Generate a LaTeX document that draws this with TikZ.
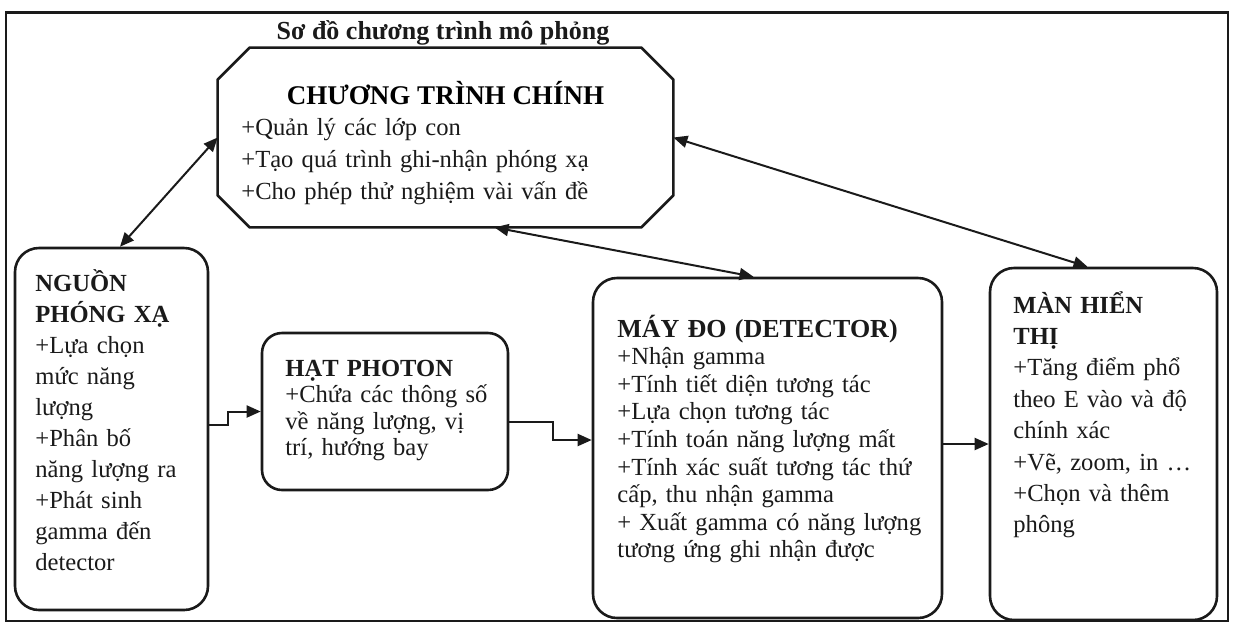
\documentclass[tikz,border=0pt]{standalone}
\usepackage{fontspec}
\setmainfont{Liberation Serif}
\usetikzlibrary{arrows.meta}
\definecolor{ink}{HTML}{1A1A1A}
\tikzset{
  framebox/.style ={draw=ink, line width=1.1pt, inner sep=0pt},
  mainline/.style ={draw=ink, line width=1.3pt, line join=round},
  roundbox/.style ={draw=ink, line width=1.3pt, rounded corners=12pt, inner sep=0pt},
  boxtext/.style  ={anchor=base west, align=left, inner sep=0pt, text=ink},
  linkarr/.style  ={{Triangle[length=7pt,width=6pt]}-{Triangle[length=7pt,width=6pt]},
                    line width=1pt, draw=ink},
  flowarr/.style  ={-{Triangle[length=7pt,width=6pt]}, line width=1pt, draw=ink},
}

\begin{document}
\begin{tikzpicture}[x=0.5pt,y=-0.5pt]
  \useasboundingbox (0,0) rectangle (1235,623);
  \node[framebox, minimum width=611pt, minimum height=304.25pt] (frame) at (617,316.75) {};
  \node[font=\bfseries\fontsize{13}{15}\selectfont, text=ink] (title) at (443,33)
    {Sơ đồ chương trình mô phỏng};

  % boxes
  \node[inner sep=0pt, minimum width=227.5pt, minimum height=89.5pt] (main) at (445.5,137.5) {};
  \draw[mainline] ([xshift=16pt]main.north west) -- ([xshift=-16pt]main.north east)
    -- ([yshift=-16pt]main.north east) -- ([yshift=16pt]main.south east)
    -- ([xshift=-16pt]main.south east) -- ([xshift=16pt]main.south west)
    -- ([yshift=16pt]main.south west) -- ([yshift=-16pt]main.north west) -- cycle;
  \node[roundbox, minimum width=96.5pt, minimum height=181pt] (nguon) at (111.5,429) {};
  \node[roundbox, rounded corners=10pt, minimum width=123pt, minimum height=78.5pt] (photon) at (385,411.5) {};
  \node[roundbox, minimum width=174.5pt, minimum height=170pt] (det) at (767.5,448) {};
  \node[roundbox, minimum width=113.5pt, minimum height=176pt] (man) at (1103.5,444) {};

  % texts
  \node[anchor=base, inner sep=0pt, font=\bfseries\fontsize{13.5}{16}\selectfont] (mainhead) at (445.5,104)
    {CHƯƠNG TRÌNH CHÍNH};
  \node[boxtext, text width=200pt, font=\fontsize{12.3}{16}\selectfont] (maintext) at (241,135)
    {+Quản lý các lớp con\\+Tạo quá trình ghi-nhận phóng xạ\\+Cho phép thử nghiệm vài vấn đề};
  \node[boxtext, text width=85pt, font=\fontsize{12.3}{15.5}\selectfont] (nguontext) at (35,291)
    {\textbf{NGUỒN}\\\textbf{PHÓNG XẠ}\\+Lựa chọn\\mức năng\\lượng\\+Phân bố\\năng lượng ra\\+Phát sinh\\gamma đến\\detector};
  \node[boxtext, text width=112pt, font=\fontsize{12.3}{13.3}\selectfont] (photontext) at (285,376)
    {\textbf{HẠT PHOTON}\\+Chứa các thông số\\về năng lượng, vị\\trí, hướng bay};
  \node[boxtext, text width=165pt, font=\fontsize{12.3}{13.8}\selectfont] (dettext) at (617,337)
    {\textbf{\fontsize{13}{13.8}\selectfont MÁY ĐO (DETECTOR)}\\+Nhận gamma\\+Tính tiết diện tương tác\\+Lựa chọn tương tác\\+Tính toán năng lượng mất\\+Tính xác suất tương tác thứ\\cấp, thu nhận gamma\\+ Xuất gamma có năng lượng\\tương ứng ghi nhận được};
  \node[boxtext, text width=100pt, font=\fontsize{12.3}{15.7}\selectfont] (mantext) at (1013,313)
    {\textbf{MÀN HIỂN}\\\textbf{THỊ}\\+Tăng điểm phổ\\theo E vào và độ\\chính xác\\+Vẽ, zoom, in …\\+Chọn và thêm\\phông};

  % connectors
  \draw[linkarr] (main.west) -- ([xshift=4.25pt]nguon.north);
  \draw[linkarr] ([xshift=24.5pt]main.south) -- ([xshift=-7pt]det.north);
  \draw[linkarr] (main.east) -- ([xshift=-8pt]man.north);
  \draw[flowarr] ([yshift=2pt]nguon.east) -- ++(19,0) |- (photon.west);
  \draw[flowarr] ([yshift=-5pt]photon.east) -- ++(44,0) |- ([yshift=4pt]det.west);
  \draw[flowarr] (man.west -| det.east) -- (man.west);
\end{tikzpicture}
\end{document}
